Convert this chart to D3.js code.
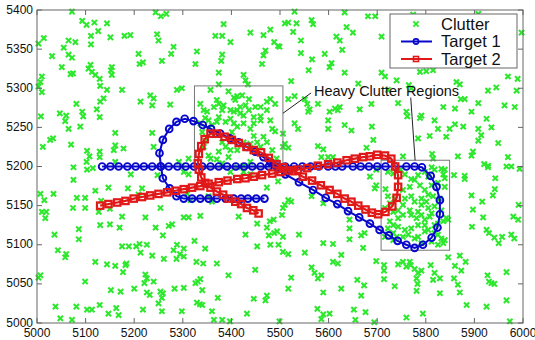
<!DOCTYPE html>
<html>
<head>
<meta charset="utf-8">
<script src="https://cdn.jsdelivr.net/npm/d3@7"></script>
<style>
  body { margin: 0; background: #fff; }
  text { font-family: "Liberation Sans", Arial, sans-serif; }
</style>
</head>
<body>
<svg id="chart"></svg>
<script>
// tick labels
const xTicks = [5000, 5100, 5200, 5300, 5400, 5500, 5600, 5700, 5800, 5900, 6000];
const yTicks = [5000, 5050, 5100, 5150, 5200, 5250, 5300, 5350, 5400];

// clutter points [x, y]
const clutter = [
  [5072,5398],[5244,5397],[5255,5392],[5266,5395],[5093,5386],[5102,5381],[5118,5384],[5144,5383],[5384,5382],[5480,5375],
  [5439,5371],[5367,5367],[5381,5367],[5466,5368],[5247,5369],[5250,5361],[5281,5353],[5398,5359],[5488,5359],[5499,5353],
  [5111,5367],[5126,5373],[5151,5365],[5180,5367],[5192,5368],[5014,5364],[5003,5357],[5055,5352],[5065,5361],[5079,5359],
  [5111,5356],[5031,5341],[5065,5343],[5072,5339],[5209,5344],[5257,5335],[5276,5344],[5326,5331],[5329,5347],[5381,5343],
  [5379,5335],[5470,5348],[5466,5342],[5463,5331],[5211,5331],[5218,5333],[5110,5330],[5106,5325],[5113,5321],[5120,5317],
  [5129,5312],[5154,5327],[5152,5323],[5154,5317],[5051,5327],[5069,5318],[5074,5319],[5010,5315],[5007,5308],[5003,5302],
  [5010,5295],[5425,5317],[5429,5310],[5434,5305],[5374,5320],[5374,5305],[5130,5303],[5144,5298],[5175,5298],[5288,5298],
  [5298,5300],[5357,5298],[5233,5291],[5240,5287],[5213,5283],[5137,5287],[5130,5283],[5237,5278],[5081,5280],[5008,5264],
  [5047,5268],[5060,5265],[5093,5270],[5095,5264],[5123,5273],[5129,5263],[5274,5279],[5058,5258],[5065,5248],[5089,5251],
  [5033,5236],[5027,5234],[5012,5225],[5070,5228],[5161,5243],[5237,5243],[5161,5227],[5158,5221],[5178,5223],[5240,5225],
  [5103,5220],[5108,5213],[5129,5219],[5129,5212],[5102,5206],[5161,5206],[5292,5206],[5298,5201],[5312,5210],
  // heavy region 1
  [5336,5280],[5343,5272],[5350,5270],[5370,5285],[5374,5280],[5394,5296],[5405,5288],[5412,5290],[5408,5285],[5422,5291],
  [5436,5286],[5449,5276],[5460,5276],[5473,5283],[5490,5280],[5480,5286],[5381,5272],[5398,5272],[5405,5270],[5412,5272],
  [5418,5268],[5425,5265],[5436,5272],[5446,5263],[5460,5264],[5473,5272],[5346,5262],[5353,5259],[5374,5263],[5370,5257],
  [5360,5253],[5388,5257],[5398,5261],[5405,5255],[5412,5251],[5425,5255],[5439,5248],[5460,5259],[5484,5248],[5490,5245],
  [5466,5238],[5473,5231],[5460,5225],[5425,5231],[5439,5229],[5453,5231],[5381,5231],[5388,5225],[5374,5219],[5394,5212],
  [5412,5221],[5398,5221],[5340,5244],[5343,5225],[5353,5214],[5357,5210],[5370,5209],[5381,5204],[5412,5199],[5425,5201],
  [5439,5206],[5484,5221],[5493,5210],[5336,5255],[5346,5233],[5364,5276],[5384,5278],[5429,5278],[5418,5276],[5446,5255],
  [5480,5259],[5364,5240],[5401,5244],[5446,5239],
  // upper right
  [5530,5398],[5633,5397],[5681,5392],[5696,5392],[5774,5394],[5908,5395],[5510,5383],[5517,5384],[5534,5383],[5565,5387],
  [5568,5382],[5527,5372],[5637,5378],[5650,5371],[5616,5366],[5623,5361],[5709,5366],[5543,5361],[5496,5354],[5628,5349],
  [5543,5345],[5592,5344],[5566,5337],[5606,5332],[5602,5327],[5559,5323],[5633,5320],[5709,5320],[5716,5315],[5523,5309],
  [5661,5306],[5740,5310],[5765,5304],[5770,5300],[5722,5298],[5863,5308],[5870,5305],[5945,5301],[5928,5297],[5987,5297],
  [5969,5315],[5989,5312],[5997,5371],[5788,5321],[5801,5322],[5815,5323],[5517,5286],[5530,5290],[5551,5286],[5556,5280],
  [5561,5273],[5558,5270],[5578,5280],[5602,5270],[5613,5274],[5623,5276],[5619,5272],[5664,5273],[5688,5280],[5743,5281],
  [5760,5270],[5762,5264],[5791,5265],[5788,5262],[5818,5259],[5836,5276],[5860,5274],[5872,5286],[5880,5286],[5894,5270],
  [5908,5281],[5925,5261],[5962,5278],[5983,5276],[5530,5255],[5537,5248],[5599,5259],[5599,5248],[5633,5253],[5689,5251],
  [5647,5246],[5784,5236],[5808,5239],[5825,5248],[5849,5248],[5860,5254],[5877,5251],[5842,5238],[5908,5248],[5935,5250],
  [5914,5240],[5908,5233],[5949,5230],[5506,5242],[5510,5229],[5506,5225],[5517,5224],[5578,5226],[5589,5222],[5585,5212],
  [5599,5212],[5609,5212],[5678,5224],[5692,5234],[5753,5213],[5813,5216],[5815,5210],[5866,5213],[5894,5214],[5897,5219],
  [5969,5212],[5920,5203],[5928,5199],[5976,5200],[5812,5199],
  // lower left
  [5075,5199],[5103,5196],[5115,5198],[5193,5190],[5248,5189],[5302,5193],[5312,5190],[5398,5193],[5425,5193],[5439,5190],
  [5075,5183],[5147,5173],[5120,5169],[5187,5172],[5216,5172],[5007,5165],[5034,5165],[5015,5157],[5082,5160],[5099,5160],
  [5132,5156],[5209,5164],[5309,5165],[5353,5162],[5360,5155],[5473,5173],[5074,5147],[5099,5147],[5150,5146],[5254,5147],
  [5316,5157],[5010,5142],[5019,5142],[5017,5134],[5127,5142],[5175,5136],[5223,5135],[5302,5135],[5312,5135],[5336,5137],
  [5415,5136],[5453,5127],[5479,5130],[5487,5132],[5473,5122],[5494,5117],[5488,5115],[5130,5125],[5150,5126],[5170,5122],
  [5244,5122],[5271,5124],[5278,5126],[5086,5120],[5036,5113],[5086,5107],[5259,5112],[5324,5105],[5429,5113],[5477,5112],
  [5175,5098],[5189,5098],[5204,5098],[5211,5101],[5226,5100],[5288,5100],[5302,5095],[5346,5095],[5453,5098],[5480,5100],
  [5497,5100],[5043,5093],[5060,5088],[5058,5084],[5213,5090],[5237,5086],[5281,5093],[5294,5088],[5287,5082],[5302,5085],
  [5261,5082],[5328,5078],[5342,5076],[5370,5076],[5120,5078],[5144,5075],[5161,5073],[5184,5076],[5182,5074],[5007,5061],
  [5003,5058],[5177,5065],[5223,5062],[5226,5057],[5240,5053],[5221,5051],[5336,5056],[5331,5053],[5326,5051],[5394,5061],
  [5449,5068],[5099,5053],[5152,5042],[5172,5040],[5200,5044],[5226,5039],[5232,5036],[5254,5040],[5259,5038],[5283,5044],
  [5302,5045],[5340,5042],[5372,5032],[5446,5031],[5473,5035],[5470,5029],[5257,5032],[5250,5025],[5038,5021],[5081,5021],
  [5103,5017],[5113,5017],[5129,5023],[5147,5012],[5163,5019],[5168,5010],[5218,5017],[5257,5015],[5298,5015],[5329,5026],
  [5335,5024],[5340,5023],[5360,5015],[5432,5012],[5048,5006],[5072,5004],[5364,5004],[5381,5004],[5397,5002],
  // lower right
  [5496,5181],[5506,5147],[5517,5157],[5523,5155],[5510,5151],[5504,5138],[5506,5110],[5506,5091],[5517,5088],[5539,5113],
  [5565,5162],[5589,5153],[5589,5102],[5551,5090],[5609,5101],[5643,5132],[5643,5121],[5643,5107],[5674,5115],[5667,5112],
  [5671,5096],[5626,5087],[5609,5078],[5619,5076],[5565,5071],[5571,5064],[5585,5061],[5578,5057],[5523,5058],[5517,5044],
  [5589,5039],[5626,5044],[5659,5055],[5673,5048],[5667,5035],[5698,5079],[5714,5074],[5714,5067],[5714,5056],[5736,5047],
  [5743,5075],[5753,5078],[5767,5078],[5769,5074],[5760,5072],[5777,5069],[5784,5064],[5781,5057],[5783,5050],[5781,5041],
  [5791,5067],[5810,5074],[5818,5064],[5815,5055],[5829,5057],[5829,5038],[5846,5084],[5870,5086],[5860,5073],[5882,5078],
  [5873,5067],[5858,5057],[5866,5049],[5870,5039],[5884,5023],[5927,5061],[5930,5053],[5935,5051],[5941,5050],[5966,5065],
  [5966,5029],[5925,5021],[5894,5163],[5897,5145],[5895,5123],[5918,5135],[5925,5119],[5930,5115],[5941,5109],[5950,5102],
  [5957,5110],[5976,5113],[5982,5108],[5980,5136],[5990,5132],[5991,5151],[5942,5171],[5938,5163],[5916,5155],[5943,5185],
  [5880,5188],[5880,5184],[5858,5189],[5928,5201],[5966,5200],[5993,5197],[5577,5018],[5589,5011],[5585,5005],[5602,5012],
  [5652,5017],[5676,5014],[5655,5004],[5694,5001],[5760,5007],[5794,5012],[5973,5002],[5499,5002],[5698,5196],[5685,5187],
  [5695,5172],[5698,5176],
  // heavy region 2
  [5722,5193],[5733,5191],[5748,5196],[5757,5190],[5770,5184],[5777,5183],[5784,5189],[5798,5193],[5805,5187],[5818,5196],
  [5832,5197],[5839,5196],[5836,5190],[5717,5171],[5722,5162],[5726,5153],[5716,5147],[5733,5142],[5743,5144],[5753,5151],
  [5757,5159],[5770,5162],[5777,5155],[5791,5151],[5801,5155],[5805,5164],[5798,5170],[5815,5162],[5784,5142],[5770,5138],
  [5781,5134],[5791,5138],[5798,5132],[5808,5136],[5812,5140],[5818,5149],[5832,5144],[5842,5134],[5846,5132],[5836,5130],
  [5825,5127],[5818,5125],[5798,5125],[5784,5125],[5770,5121],[5757,5119],[5743,5123],[5733,5125],[5726,5130],[5722,5121],
  [5733,5115],[5740,5110],[5753,5110],[5764,5113],[5777,5108],[5784,5110],[5798,5117],[5805,5119],[5825,5113],[5832,5108],
  [5836,5102],[5825,5100],[5839,5106],[5743,5134],[5753,5138],[5716,5110],[5733,5106],[5812,5104],[5818,5115],[5791,5102],
  [5736,5159],[5812,5176],[5825,5179],[5839,5174],[5829,5159],[5767,5174],[5753,5170],[5788,5176],[5791,5159],[5839,5185],
  [5805,5147],[5767,5144]
];

// Target 1 track
const target1 = [
  [5134,5200],[5151,5200],[5168,5200],[5186,5200],[5203,5200],[5220,5200],[5237,5200],[5254,5200],[5271,5200],[5289,5200],
  [5306,5200],[5323,5200],[5340,5200],[5357,5200],[5374,5200],[5391,5200],[5409,5200],[5426,5200],[5443,5200],[5460,5200],
  [5477,5200],[5494,5200],[5511,5200],[5529,5200],[5546,5200],[5563,5200],[5580,5200],[5599,5200],[5614,5200],[5628,5200],
  [5650,5200],[5666,5200],[5683,5200],[5700,5200],[5717,5200],[5737,5200],[5760,5200],[5777,5200],[5792,5199],
  [5810,5188],[5822,5174],[5829,5157],[5829,5139],[5824,5122],[5812,5109],[5794,5100],[5777,5096],[5760,5100],[5742,5105],
  [5724,5112],[5705,5119],[5685,5127],[5663,5135],[5640,5143],[5618,5152],[5594,5160],[5568,5170],[5539,5180],[5511,5190],
  [5495,5198],[5480,5206],[5466,5212],[5449,5219],[5432,5225],[5415,5231],[5397,5236],[5377,5242],[5358,5248],[5341,5253],
  [5322,5258],[5304,5261],[5287,5257],[5272,5248],[5259,5234],[5252,5217],[5255,5200],[5259,5185],[5273,5172],[5287,5162],
  [5302,5159],[5319,5159],[5336,5159],[5353,5159],[5370,5159],[5388,5159],[5405,5159],[5420,5159],[5434,5159],[5451,5159],
  [5468,5159]
];

// Target 2 track
const target2 = [
  [5130,5150],[5147,5152],[5165,5154],[5182,5156],[5199,5159],[5216,5161],[5233,5163],[5250,5165],[5268,5167],[5285,5169],
  [5302,5171],[5319,5173],[5336,5175],[5353,5178],[5374,5180],[5392,5182],[5412,5184],[5429,5185],[5446,5187],[5463,5189],
  [5484,5191],[5501,5193],[5518,5195],[5537,5196],[5556,5198],[5578,5201],[5599,5203],[5618,5205],[5637,5208],[5654,5210],
  [5671,5212],[5685,5213],[5700,5215],[5716,5214],[5729,5210],[5737,5200],[5743,5189],[5743,5174],[5740,5160],[5731,5149],
  [5717,5142],[5702,5139],[5689,5141],[5676,5145],[5661,5150],[5647,5155],[5633,5159],[5618,5165],[5602,5170],[5584,5176],
  [5566,5182],[5547,5187],[5527,5194],[5506,5199],[5493,5203],[5477,5211],[5461,5218],[5446,5221],[5431,5225],[5415,5230],
  [5401,5234],[5386,5238],[5370,5242],[5357,5242],[5345,5235],[5338,5226],[5333,5216],[5331,5204],[5333,5196],[5338,5186],
  [5346,5179],[5357,5173],[5370,5168],[5383,5164],[5394,5159],[5408,5155],[5420,5152],[5432,5147],[5445,5144],[5456,5140]
];

// heavy clutter regions [x0, x1, y0, y1]
const regions = [[5324, 5506, 5198, 5303], [5708, 5849, 5093, 5208]];

const W = 535, H = 340;
const mLeft = 37, mRight = 523, mTop = 10, mBottom = 323;

const svg = d3.select("#chart").attr("width", W).attr("height", H);

const x = d3.scaleLinear().domain([5000, 6000]).range([mLeft, mRight]);
const y = d3.scaleLinear().domain([5000, 5400]).range([mBottom, mTop]);

const green = "#2ee82e", blue = "#0808cc", red = "#e01818";
const cross = "M-2.6,-2.6L2.6,2.6M-2.6,2.6L2.6,-2.6";

// clutter
svg.append("g").selectAll("path")
  .data(clutter)
  .enter()
  .append("path")
  .attr("d", cross)
  .attr("transform", d => `translate(${x(d[0])},${y(d[1])})`)
  .attr("stroke", green)
  .attr("stroke-width", 2.1)
  .attr("fill", "none");

// region boxes
svg.append("g").selectAll("rect")
  .data(regions)
  .enter()
  .append("rect")
  .attr("x", d => x(d[0]))
  .attr("y", d => y(d[3]))
  .attr("width", d => x(d[1]) - x(d[0]))
  .attr("height", d => y(d[2]) - y(d[3]))
  .attr("fill", "none")
  .attr("stroke", "#777")
  .attr("stroke-width", 1);

// annotation
svg.append("line")
  .attr("x1", x(5564)).attr("y1", y(5294))
  .attr("x2", x(5506)).attr("y2", y(5268))
  .attr("stroke", "#222").attr("stroke-width", 1);
svg.append("line")
  .attr("x1", x(5769)).attr("y1", y(5288))
  .attr("x2", x(5778)).attr("y2", y(5208))
  .attr("stroke", "#222").attr("stroke-width", 1);
svg.append("text")
  .attr("x", x(5570)).attr("y", y(5290))
  .attr("font-size", 14.5)
  .attr("fill", "#111")
  .text("Heavy Clutter Regions");

const line = d3.line().x(d => x(d[0])).y(d => y(d[1]));

// target 1
svg.append("path")
  .datum(target1)
  .attr("d", line)
  .attr("fill", "none")
  .attr("stroke", blue)
  .attr("stroke-width", 2);
svg.append("g").selectAll("circle")
  .data(target1)
  .enter()
  .append("circle")
  .attr("cx", d => x(d[0]))
  .attr("cy", d => y(d[1]))
  .attr("r", 3.4)
  .attr("fill", "none")
  .attr("stroke", blue)
  .attr("stroke-width", 1.9);

// target 2
svg.append("path")
  .datum(target2)
  .attr("d", line)
  .attr("fill", "none")
  .attr("stroke", red)
  .attr("stroke-width", 2.2);
svg.append("g").selectAll("rect")
  .data(target2)
  .enter()
  .append("rect")
  .attr("x", d => x(d[0]) - 3.2)
  .attr("y", d => y(d[1]) - 3.2)
  .attr("width", 6.4)
  .attr("height", 6.4)
  .attr("fill", "none")
  .attr("stroke", red)
  .attr("stroke-width", 2.2);

// axes box with inward ticks
const axisColor = "#666";
svg.append("rect")
  .attr("x", mLeft).attr("y", mTop)
  .attr("width", mRight - mLeft).attr("height", mBottom - mTop)
  .attr("fill", "none").attr("stroke", axisColor).attr("stroke-width", 1);

const tickG = svg.append("g").attr("stroke", axisColor).attr("stroke-width", 1);
xTicks.forEach(t => {
  tickG.append("line").attr("x1", x(t)).attr("x2", x(t)).attr("y1", mBottom).attr("y2", mBottom - 5);
  tickG.append("line").attr("x1", x(t)).attr("x2", x(t)).attr("y1", mTop).attr("y2", mTop + 5);
});
yTicks.forEach(t => {
  tickG.append("line").attr("x1", mLeft).attr("x2", mLeft + 5).attr("y1", y(t)).attr("y2", y(t));
  tickG.append("line").attr("x1", mRight).attr("x2", mRight - 5).attr("y1", y(t)).attr("y2", y(t));
});

svg.append("g").selectAll("text")
  .data(xTicks)
  .enter()
  .append("text")
  .attr("x", d => x(d))
  .attr("y", 337)
  .attr("text-anchor", "middle")
  .attr("font-size", 12)
  .attr("fill", "#111")
  .text(d => d);

svg.append("g").selectAll("text")
  .data(yTicks)
  .enter()
  .append("text")
  .attr("x", mLeft - 4)
  .attr("y", d => y(d) + 3.6)
  .attr("text-anchor", "end")
  .attr("font-size", 12)
  .attr("fill", "#111")
  .text(d => d);

// legend
const lg = svg.append("g").attr("transform", "translate(390,14)");
lg.append("rect")
  .attr("width", 127).attr("height", 54)
  .attr("fill", "#fff").attr("stroke", "#666").attr("stroke-width", 1);

const items = [
  {label: "Clutter", type: "x"},
  {label: "Target 1", type: "o"},
  {label: "Target 2", type: "s"}
];
items.forEach((it, i) => {
  const cy = 10 + i * 17.5;
  if (it.type === "x") {
    lg.append("path").attr("d", cross).attr("transform", `translate(26,${cy})`)
      .attr("stroke", green).attr("stroke-width", 2).attr("fill", "none");
  } else {
    const c = it.type === "o" ? blue : red;
    lg.append("line").attr("x1", 11).attr("x2", 42).attr("y1", cy).attr("y2", cy)
      .attr("stroke", c).attr("stroke-width", 2);
    if (it.type === "o") {
      lg.append("circle").attr("cx", 26).attr("cy", cy).attr("r", 2.6)
        .attr("fill", "none").attr("stroke", c).attr("stroke-width", 1.6);
    } else {
      lg.append("rect").attr("x", 23.5).attr("y", cy - 2.5).attr("width", 5).attr("height", 5)
        .attr("fill", "none").attr("stroke", c).attr("stroke-width", 1.6);
    }
  }
  lg.append("text")
    .attr("x", 51).attr("y", cy + 5.5)
    .attr("font-size", 16.5)
    .attr("fill", "#111")
    .text(it.label);
});
</script>
</body>
</html>
